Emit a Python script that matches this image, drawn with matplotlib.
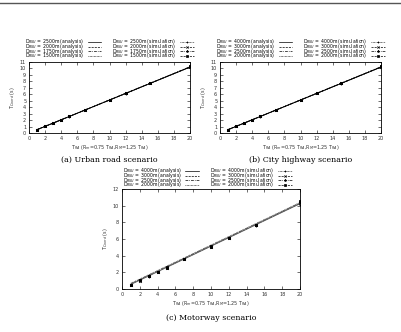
import matplotlib
matplotlib.use("Agg")
import matplotlib.pyplot as plt
from matplotlib.lines import Line2D

t_ra = [1, 2, 3, 4, 5, 7, 10, 12, 15, 20]

# panel (a) urban road
a_labels = ["2500m", "2000m", "1750m", "1500m"]
a_analysis = [
    [0.52, 1.02, 1.53, 2.04, 2.55, 3.57, 5.10, 6.12, 7.65, 10.20],
    [0.52, 1.03, 1.54, 2.05, 2.56, 3.58, 5.11, 6.13, 7.67, 10.22],
    [0.53, 1.03, 1.54, 2.05, 2.56, 3.59, 5.12, 6.14, 7.68, 10.24],
    [0.53, 1.04, 1.55, 2.06, 2.57, 3.60, 5.13, 6.15, 7.69, 10.26],
]
a_sim = [
    [0.50, 1.02, 1.52, 2.03, 2.55, 3.60, 5.10, 6.10, 7.70, 10.20],
    [0.51, 1.03, 1.53, 2.04, 2.56, 3.61, 5.12, 6.12, 7.72, 10.30],
    [0.51, 1.03, 1.53, 2.05, 2.57, 3.62, 5.13, 6.13, 7.73, 10.35],
    [0.52, 1.04, 1.54, 2.06, 2.58, 3.63, 5.14, 6.14, 7.75, 10.42],
]

# panel (b) city highway
b_labels = ["4000m", "3000m", "2500m", "2000m"]
b_analysis = [
    [0.52, 1.02, 1.53, 2.04, 2.55, 3.57, 5.10, 6.12, 7.65, 10.20],
    [0.52, 1.03, 1.54, 2.05, 2.56, 3.58, 5.11, 6.13, 7.67, 10.22],
    [0.53, 1.03, 1.54, 2.05, 2.56, 3.59, 5.12, 6.14, 7.68, 10.24],
    [0.53, 1.04, 1.55, 2.06, 2.57, 3.60, 5.13, 6.15, 7.69, 10.26],
]
b_sim = [
    [0.50, 1.02, 1.52, 2.03, 2.55, 3.60, 5.10, 6.12, 7.65, 10.20],
    [0.51, 1.03, 1.53, 2.04, 2.56, 3.61, 5.12, 6.14, 7.68, 10.30],
    [0.51, 1.03, 1.53, 2.05, 2.57, 3.62, 5.13, 6.16, 7.70, 10.38],
    [0.52, 1.04, 1.54, 2.06, 2.58, 3.63, 5.14, 6.18, 7.75, 10.45],
]

# panel (c) motorway
c_labels = ["4000m", "3000m", "2500m", "2000m"]
c_analysis = [
    [0.55, 1.05, 1.56, 2.07, 2.58, 3.60, 5.13, 6.15, 7.68, 10.23],
    [0.60, 1.10, 1.61, 2.12, 2.63, 3.65, 5.18, 6.20, 7.73, 10.28],
    [0.65, 1.15, 1.66, 2.17, 2.68, 3.70, 5.23, 6.25, 7.78, 10.33],
    [0.70, 1.20, 1.71, 2.22, 2.73, 3.75, 5.28, 6.30, 7.83, 10.38],
]
c_sim = [
    [0.50, 1.00, 1.50, 2.00, 2.55, 3.55, 5.05, 6.10, 7.60, 10.10],
    [0.52, 1.02, 1.52, 2.02, 2.57, 3.57, 5.08, 6.13, 7.63, 10.30],
    [0.53, 1.03, 1.53, 2.03, 2.58, 3.58, 5.10, 6.15, 7.65, 10.45],
    [0.54, 1.04, 1.54, 2.04, 2.59, 3.59, 5.12, 6.17, 7.67, 10.60],
]

captions = ["(a) Urban road scenario", "(b) City highway scenario", "(c) Motorway scenario"]

W, H = 401, 332
fig = plt.figure(figsize=(W / 100, H / 100), dpi=100)
fig.patch.set_facecolor("white")

# page header rule
fig.add_artist(Line2D([0, 1], [1 - 3 / H, 1 - 3 / H], color="#555555", lw=1.0))

def px_axes(x0, y0, x1, y1):
    return fig.add_axes([x0 / W, 1 - y1 / H, (x1 - x0) / W, (y1 - y0) / H])

an_styles = ["-", (0, (3, 1.5)), (0, (4, 1.5, 1, 1.5)), (0, (1, 1))]
sim_styles = [(0, (1, 1)), (0, (3, 1.5)), (0, (4, 1.5, 1, 1.5)), (0, (3, 1.5))]
sim_markers = ["+", "x", "*", "s"]

def panel(ax, labels, analysis, sim, ymax, yticks, lw, color, legend_anchor):
    names = []
    for i in range(4):
        ax.plot(t_ra, analysis[i], linestyle=an_styles[i], color=color, lw=lw)
        names.append(f"D$_{{RSU}}$ = {labels[i]} (analysis)")
    for i in range(4):
        ax.plot(t_ra, sim[i], linestyle="none", marker=sim_markers[i], color="black",
                ms=2.0, mew=0.6)
        names.append(f"D$_{{RSU}}$ = {labels[i]} (simulation)")
    leg_handles = []
    for i in range(4):
        leg_handles.append(Line2D([], [], linestyle=an_styles[i], color="black", lw=0.5))
    for i in range(4):
        leg_handles.append(Line2D([], [], linestyle=sim_styles[i], color="black", lw=0.5,
                                  marker=sim_markers[i], ms=1.6, mew=0.5))
    ax.legend(leg_handles, names, ncol=2, fontsize=3.3, frameon=False,
              loc="lower center", bbox_to_anchor=legend_anchor,
              handlelength=3.0, handletextpad=0.8, columnspacing=2.4,
              handleheight=0.3, labelspacing=-0.95, markerfirst=False, borderpad=0)
    ax.set_xlim(0, 20)
    ax.set_ylim(0, ymax)
    ax.set_xticks(range(0, 21, 2))
    ax.set_yticks(yticks)
    ax.tick_params(direction="in", top=True, right=True, labelsize=3.5, length=2,
                   width=0.4, pad=2, colors="black", labelcolor="#333333")
    for s in ax.spines.values():
        s.set_linewidth(0.6)
    ax.set_xlabel("T$_{RA}$ (R$_{m}$=0.75 T$_{RA}$,R$_{M}$=1.25 T$_{RA}$)", fontsize=3.5,
                  labelpad=1.5, color="#333333")
    ax.set_ylabel("T$_{Coord}$ (s)", fontsize=3.5, labelpad=2, color="#333333")

axa = px_axes(29, 62, 190, 133)
panel(axa, a_labels, a_analysis, a_sim, 11, range(0, 12), 0.6, "black", (0.5, 0.99))
axb = px_axes(220, 62, 381, 133)
panel(axb, b_labels, b_analysis, b_sim, 11, range(0, 12), 0.6, "black", (0.5, 0.99))
axc = px_axes(122, 189, 300, 289)
panel(axc, c_labels, c_analysis, c_sim, 12, range(0, 13, 2), 0.6, "#555555", (0.48, 0.975))

cap_kw = dict(fontsize=5.7, family="DejaVu Serif", ha="center", va="center")
fig.text((29 + 190) / 2 / W, 1 - 160 / H, captions[0], **cap_kw)
fig.text((220 + 381) / 2 / W, 1 - 160 / H, captions[1], **cap_kw)
fig.text((122 + 300) / 2 / W, 1 - 318 / H, captions[2], **cap_kw)

fig.savefig("out.png", dpi=100)
